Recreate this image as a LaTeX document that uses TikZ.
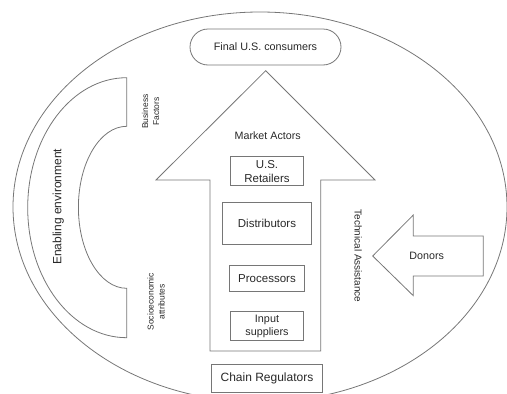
\documentclass[tikz,border=0pt]{standalone}
\usepackage{fontspec}
\setmainfont{Liberation Sans}
\usetikzlibrary{positioning}
\definecolor{edgegray}{RGB}{118,118,118}
\definecolor{inkgray}{RGB}{40,40,40}

\begin{document}
\begin{tikzpicture}[x=1pt,y=-1pt,
 outline/.style={draw=edgegray,line width=0.8pt},
 box/.style={draw=edgegray,line width=0.8pt,align=center,inner sep=0pt,text=inkgray,font=\fontsize{11.5}{14}\selectfont},
 side/.style={align=center,text=inkgray,inner sep=0pt,font=\fontsize{8.5}{11}\selectfont},
 lbl/.style={text=inkgray,inner sep=0pt,font=\fontsize{10.7}{13}\selectfont}]
\useasboundingbox (0,0) rectangle (507,394);
\clip (0,0) rectangle (507,394);
% surrounding system
\draw[outline] (260,207) ellipse [x radius=247,y radius=195];
\node[box,rounded corners=18pt,minimum width=151pt,minimum height=36pt,font=\fontsize{10.8}{13}\selectfont] (consumers) at (265.5,47) {Final U.S. consumers};
% enabling environment bracket
\draw[outline] (126.7,77.7) arc[start angle=-90,end angle=-270,x radius=99,y radius=130]
 -- (126.7,288.3) arc[start angle=90,end angle=270,x radius=48.3,y radius=81] -- cycle;
\node[lbl,rotate=90,font=\fontsize{12}{14}\selectfont] (enabling) at (58.3,206.7) {Enabling environment};
\node[side,rotate=90] (business) at (150.5,111.7) {Business\\Factors};
\node[side,rotate=90] (socio) at (156,301.7) {Socioeconomic\\attributes};
% market actors arrow
\draw[outline] (210,351) -- (210,180) -- (156,180) -- (265.7,70.7) -- (375,180) -- (320.7,180) -- (320.7,351) -- cycle;
\node[lbl] (actors) at (267.7,135.7) {Market Actors};
\node[box,minimum width=72.6pt,minimum height=29pt] (retail) at (267,171.2) {U.S.\\Retailers};
\node[box,below=15.6pt of retail,minimum width=88.6pt,minimum height=42pt] (distrib) {Distributors};
\node[box,below=20pt of distrib,minimum width=75.3pt,minimum height=26.7pt] (proc) {Processors};
\node[box,below=19.3pt of proc,minimum width=72.7pt,minimum height=29pt,font=\fontsize{10.8}{12.7}\selectfont] (input) {Input\\suppliers};
\node[box,below=22.4pt of input,minimum width=110.4pt,minimum height=28.6pt,font=\fontsize{12}{14}\selectfont] (regul) {Chain Regulators};
% donors arrow
\draw[outline] (483.3,236) -- (413.3,236) -- (413.3,215) -- (372.7,256) -- (413.3,295.7) -- (413.3,276) -- (483.3,276) -- cycle;
\node[lbl] (donors) at (426.7,256) {Donors};
\node[lbl,rotate=-90,font=\fontsize{10}{12}\selectfont] (assist) at (358.3,256) {Technical Assistance};
\end{tikzpicture}
\end{document}
